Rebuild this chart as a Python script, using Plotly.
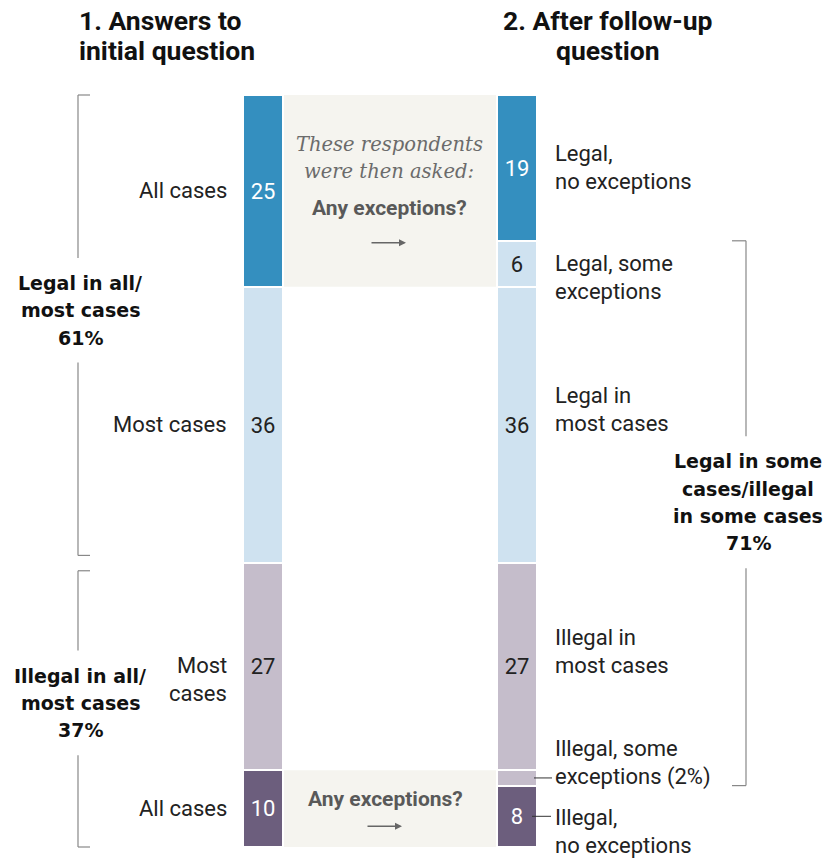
import numpy as np
import plotly.graph_objects as go

# ---------------- data ----------------
initial_labels = ["All cases", "Most cases", "Most<br>cases", "All cases"]
initial_values = [25, 36, 27, 10]
initial_text = ["25", "36", "27", "10"]

followup_labels = ["Legal,<br>no exceptions", "Legal, some<br>exceptions",
                   "Legal in<br>most cases", "Illegal in<br>most cases",
                   "Illegal, some<br>exceptions (2%)", "Illegal,<br>no exceptions"]
followup_values = [19, 6, 36, 27, 2, 8]
followup_text = ["19", "6", "36", "27", "", "8"]

group_labels = ["Legal in all/<br>most cases<br>61%",
                "Illegal in all/<br>most cases<br>37%",
                "Legal in some<br>cases/illegal<br>in some cases<br>71%"]
group_totals = [61, 37, 71]

column_titles = ["1. Answers to<br>initial question", "2. After follow-up<br>question"]

# ---------------- style ----------------
DB, LB, LP, DP = "#348fbf", "#cfe2f0", "#c5bdcb", "#6c5e7d"
initial_colors = [DB, LB, LP, DP]
followup_colors = [DB, LB, LB, LP, LP, DP]
initial_tcolors = ["white", "#222", "#222", "white"]
followup_tcolors = ["white", "#222", "#222", "#222", "#222", "white"]
FONT = "Roboto"
BOLD_FONT = "DejaVu Sans"
W, H = 837, 858
TOP_PX, BOT_PX = 95, 847
total = sum(initial_values)
k = (BOT_PX - TOP_PX) / total          # pixels per percentage point
y_range = [(H - TOP_PX) / k, -TOP_PX / k]
X_LEFT, X_RIGHT, BAR_W = 263, 517, 40
LAB = 22

fig = go.Figure()

def add_column(x, values, colors, texts, tcolors):
    vals = np.array(values, dtype=float)
    bases = np.concatenate([[0], np.cumsum(vals)[:-1]])
    fig.add_trace(go.Bar(
        x=[x] * len(vals), y=vals, base=bases, width=BAR_W,
        marker=dict(color=colors, line=dict(color="white", width=2)),
        text=texts, textposition="inside", insidetextanchor="middle",
        textangle=0, constraintext="none",
        insidetextfont=dict(family=FONT, size=LAB, color=tcolors),
        hoverinfo="skip"))
    return bases + vals / 2

c_left = add_column(X_LEFT, initial_values, initial_colors, initial_text, initial_tcolors)
c_right = add_column(X_RIGHT, followup_values, followup_colors, followup_text, followup_tcolors)

ann = []
shapes = []

def add_lines(text, x, y, spacing, font, xanchor="center", yshift=0, yref="y"):
    """Place each line of a multi-line label separately with a fixed line spacing (px)."""
    lines = text.split("<br>")
    n = len(lines)
    for i, line in enumerate(lines):
        off = ((n - 1) / 2 - i) * spacing
        ann.append(dict(x=x, y=y, xref="x", yref=yref, text=line, showarrow=False,
                        xanchor=xanchor, yanchor="middle", yshift=yshift + off, font=font))

# gray "follow-up" boxes
BOX_X0, BOX_X1 = 284, 497
box_top = (0, initial_values[0])
box_bot = (total - initial_values[-1], total)
for y0, y1 in (box_top, box_bot):
    shapes.append(dict(type="rect", x0=BOX_X0, x1=BOX_X1, y0=y0, y1=y1,
                       fillcolor="#f5f4ef", line=dict(width=0), layer="below"))

def in_box(box, frac):
    return box[0] + (box[1] - box[0]) * frac

BOX_CX = 389
add_lines("<i>These respondents</i><br><i>were then asked:</i>", BOX_CX, in_box(box_top, 0.33), 27,
          dict(family="DejaVu Serif", size=19.5, color="#6b6b6b"))
ann.append(dict(x=BOX_CX, y=in_box(box_top, 0.59), text="<b>Any exceptions?</b>",
                showarrow=False, font=dict(family=FONT, size=21, color="#595959")))
ann.append(dict(x=385, y=in_box(box_bot, 0.37), text="<b>Any exceptions?</b>",
                showarrow=False, font=dict(family=FONT, size=21, color="#595959")))
for box, frac, cx in ((box_top, 0.77, 388), (box_bot, 0.73, 384)):
    yy = in_box(box, frac)
    ann.append(dict(x=cx + 18, y=yy, ax=cx - 18, ay=yy, axref="x", ayref="y",
                    xref="x", yref="y", text="", showarrow=True, arrowhead=2,
                    arrowsize=1, arrowwidth=1.4, arrowcolor="#666"))

lab_font = dict(family=FONT, size=LAB, color="#222")
# left labels
left_shift = [0, 0, -13, 0]
for lab, yc, sh in zip(initial_labels, c_left, left_shift):
    add_lines(lab, 229, yc, 28, lab_font, xanchor="right", yshift=sh)

# right labels
right_shift = [0, -14, 15, 15, 15, -15]
for lab, yc, sh in zip(followup_labels, c_right, right_shift):
    add_lines(lab, 553, yc, 28, lab_font, xanchor="left", yshift=sh)

# leader lines for the small segments
for i, x0, x1 in ((4, 534, 552), (5, 532, 551)):
    shapes.append(dict(type="line", x0=x0, x1=x1, y0=c_right[i], y1=c_right[i],
                       line=dict(color="#333", width=1)))

# brackets with their labels
BR = "#888"
legal_span = (0, group_totals[0] - 1)
illegal_span = (group_totals[0] + 1, total)
mid_start = followup_values[0]
mid_span = (mid_start, mid_start + group_totals[2])
GSP = 27.3
gfont = dict(family=BOLD_FONT, size=19, color="#111")

def seg(x0, x1, y0, y1):
    shapes.append(dict(type="line", x0=x0, x1=x1, y0=y0, y1=y1, line=dict(color=BR, width=1.2)))

def bracket(x, span, tick_dx, label, lx, shift):
    y0, y1 = span
    yc = (y0 + y1) / 2 - shift / k
    n = len(label.split("<br>"))
    half_gap = ((n - 1) * GSP / 2 + 25) / k
    seg(x, x, y0, yc - half_gap)
    seg(x, x, yc + half_gap, y1)
    seg(x, x + tick_dx, y0, y0)
    seg(x, x + tick_dx, y1, y1)
    add_lines("<br>".join("<b>%s</b>" % s for s in label.split("<br>")), lx, yc, GSP, gfont)

bracket(78, legal_span, 12, group_labels[0], 80, 15)
bracket(78, illegal_span, 12, group_labels[1], 80, 6)
bracket(746, mid_span, -14, group_labels[2], 748, 11)

# column titles
tfont = dict(family=FONT, size=26.5, color="#111")
title_y = 1 - 35 / H
add_lines("<br>".join("<b>%s</b>" % s for s in column_titles[0].split("<br>")), 77, title_y, 30,
          tfont, xanchor="left", yref="paper")
add_lines("<br>".join("<b>%s</b>" % s for s in column_titles[1].split("<br>")), 608, title_y, 30,
          tfont, xanchor="center", yref="paper")

fig.update_layout(
    width=W, height=H, margin=dict(l=0, r=0, t=0, b=0),
    paper_bgcolor="white", plot_bgcolor="white", showlegend=False,
    barmode="overlay", bargap=0,
    xaxis=dict(range=[0, W], visible=False, fixedrange=True),
    yaxis=dict(range=y_range, visible=False, fixedrange=True),
    annotations=ann, shapes=shapes,
    font=dict(family=FONT),
)

fig.write_html("out.html", config={"displayModeBar": False},
               post_script="document.body.style.margin='0';document.body.style.overflow='hidden';")
